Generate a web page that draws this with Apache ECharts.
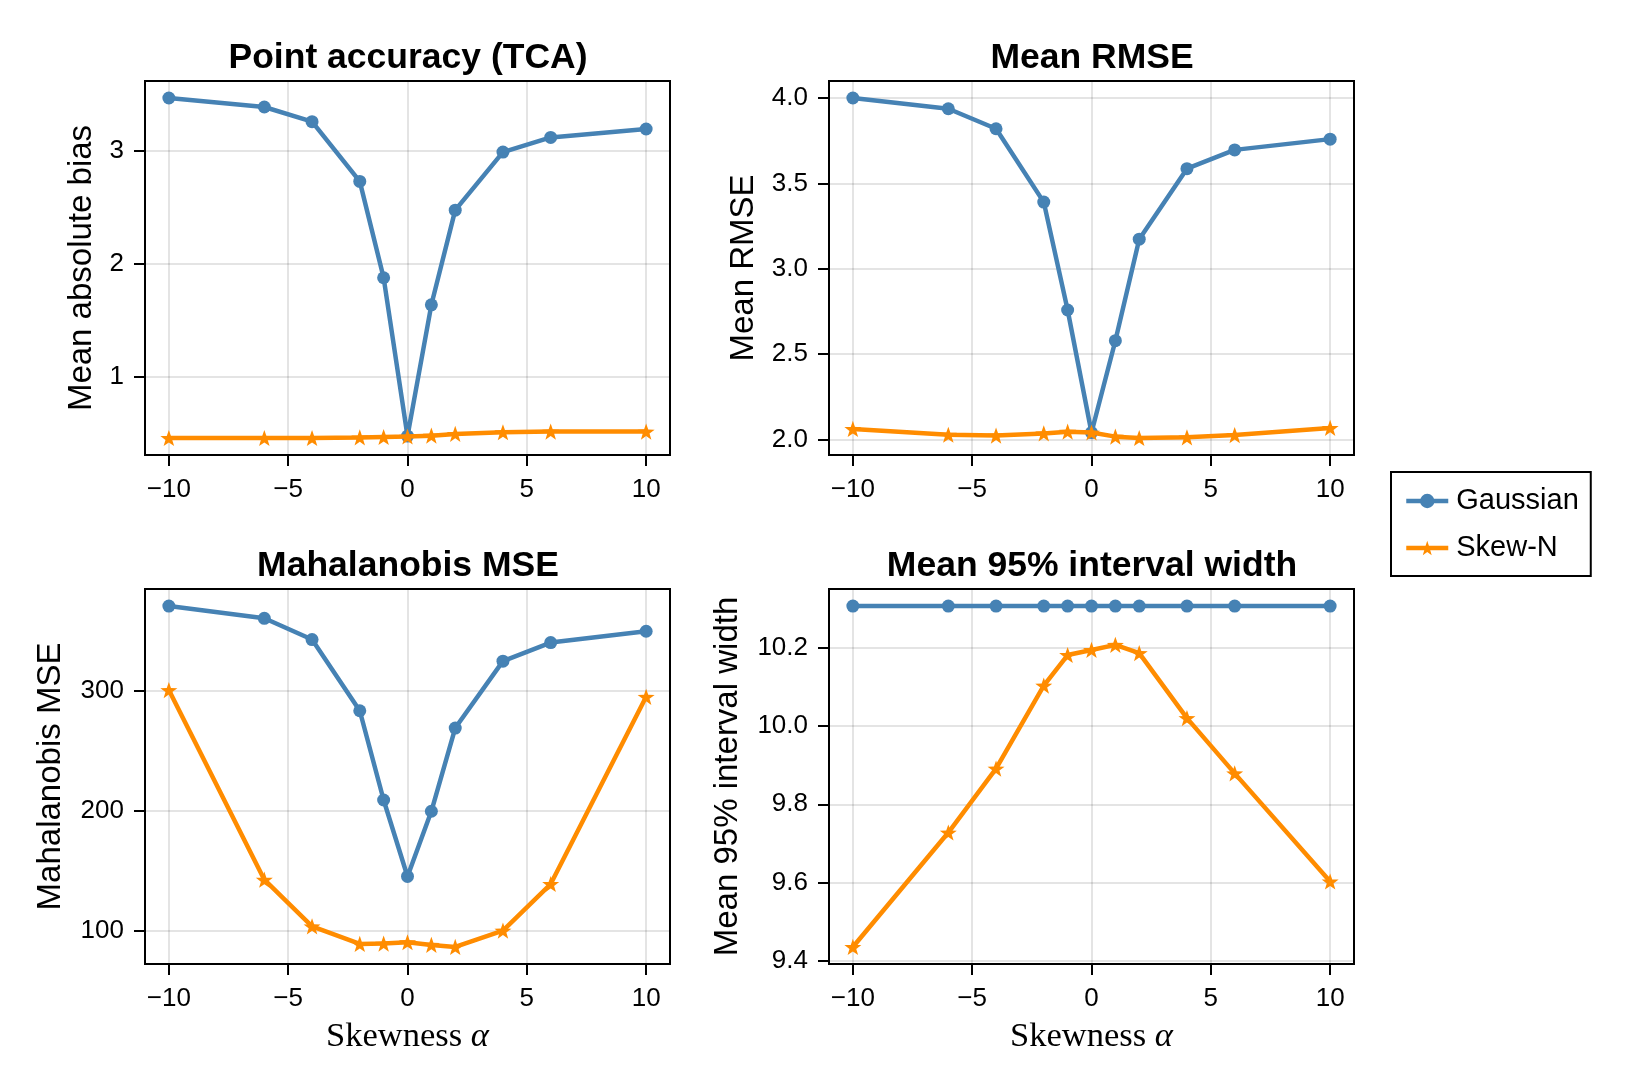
<!DOCTYPE html>
<html>
<head>
<meta charset="utf-8">
<script src="https://cdn.jsdelivr.net/npm/echarts@6/dist/echarts.min.js"></script>
<style>
html,body{margin:0;padding:0;background:#fff;}
#chart{width:1625px;height:1083px;}
</style>
</head>
<body>
<div id="chart"></div>
<script>
// ---- data ----
const alpha = [-10, -6, -4, -2, -1, 0, 1, 2, 4, 6, 10];

const tcaGaussian = [3.47, 3.39, 3.26, 2.73, 1.875, 0.47, 1.635, 2.475, 2.99, 3.12, 3.195];
const tcaSkewN    = [0.453, 0.453, 0.453, 0.458, 0.462, 0.466, 0.474, 0.489, 0.504, 0.51, 0.51];

const rmseGaussian = [4.0, 3.937, 3.82, 3.39, 2.758, 2.04, 2.578, 3.173, 3.586, 3.696, 3.759];
const rmseSkewN    = [2.061, 2.027, 2.022, 2.035, 2.045, 2.04, 2.016, 2.008, 2.012, 2.025, 2.067];

const mahalGaussian = [370.6, 360.4, 342.7, 283.4, 209.1, 145.4, 199.7, 269.0, 324.7, 340.2, 349.6];
const mahalSkewN    = [300.6, 142.7, 103.9, 89.2, 89.5, 90.6, 88.4, 86.7, 100.3, 139.1, 295.0];

const widthGaussian = [10.306, 10.306, 10.306, 10.306, 10.306, 10.306, 10.306, 10.306, 10.306, 10.306, 10.306];
const widthSkewN    = [9.436, 9.728, 9.891, 10.103, 10.181, 10.194, 10.207, 10.186, 10.02, 9.879, 9.603];

const xTicks = [-10, -5, 0, 5, 10];
const xTickLabels = ['\u221210', '\u22125', '0', '5', '10'];

const yTicksTca = [1, 2, 3];
const yTickLabelsTca = ['1', '2', '3'];
const yTicksRmse = [2.0, 2.5, 3.0, 3.5, 4.0];
const yTickLabelsRmse = ['2.0', '2.5', '3.0', '3.5', '4.0'];
const yTicksMahal = [100, 200, 300];
const yTickLabelsMahal = ['100', '200', '300'];
const yTicksWidth = [9.4, 9.6, 9.8, 10.0, 10.2];
const yTickLabelsWidth = ['9.4', '9.6', '9.8', '10.0', '10.2'];

const titles = ['Point accuracy (TCA)', 'Mean RMSE', 'Mahalanobis MSE', 'Mean 95% interval width'];
const yNames = ['Mean absolute bias', 'Mean RMSE', 'Mahalanobis MSE', 'Mean 95% interval width'];
const seriesNames = ['Gaussian', 'Skew-N'];

// ---- styling / layout ----
const BLUE = '#4682B4', ORANGE = '#FF8C00';
const SANS = '"Liberation Sans", Arial, Helvetica, sans-serif';
const SERIF = '"Liberation Serif", "DejaVu Serif", serif';
const STAR = 'path://M50,0 L61.76,33.82 L97.55,34.55 L69.02,56.18 L79.39,90.45 L50,70 L20.61,90.45 L30.98,56.18 L2.45,34.55 L38.24,33.82 Z';
const LW = 4.5;

const cols = [{left: 145, width: 525}, {left: 829, width: 525}];
const rows = [{top: 81, height: 374}, {top: 589, height: 375}];

const panels = [
  {g: tcaGaussian, s: tcaSkewN, ticks: yTicksTca, labels: yTickLabelsTca, col: 0, row: 0, nameGap: 47},
  {g: rmseGaussian, s: rmseSkewN, ticks: yTicksRmse, labels: yTickLabelsRmse, col: 1, row: 0, nameGap: 69},
  {g: mahalGaussian, s: mahalSkewN, ticks: yTicksMahal, labels: yTickLabelsMahal, col: 0, row: 1, nameGap: 78},
  {g: widthGaussian, s: widthSkewN, ticks: yTicksWidth, labels: yTickLabelsWidth, col: 1, row: 1, nameGap: 85}
];

function limits(a, b) {
  const all = a.concat(b);
  const lo = Math.min.apply(null, all), hi = Math.max.apply(null, all);
  const pad = 0.05 * (hi - lo);
  return [lo - pad, hi + pad];
}
function labelFor(ticks, labels) {
  return function (v) {
    for (let i = 0; i < ticks.length; i++) if (Math.abs(ticks[i] - v) < 1e-9) return labels[i];
    return '';
  };
}

const grid = [], xAxis = [], yAxis = [], series = [], title = [];
panels.forEach((p, i) => {
  const c = cols[p.col], r = rows[p.row];
  grid.push({left: c.left, top: r.top, width: c.width, height: r.height,
    show: true, borderColor: '#000', borderWidth: 2, backgroundColor: 'transparent'});
  title.push({text: titles[i], left: c.left + c.width / 2 - 4.5, top: r.top - 46, textAlign: 'center',
    textStyle: {fontFamily: SANS, fontWeight: 'bold', fontSize: 35.5, color: '#000'}});
  const xa = {
    type: 'value', gridIndex: i, min: -11, max: 11, position: 'bottom',
    axisLine: {show: false, onZero: false},
    axisTick: {show: true, inside: false, length: 11, lineStyle: {color: '#000', width: 2}, customValues: xTicks},
    axisLabel: {show: true, margin: 22, customValues: xTicks, formatter: labelFor(xTicks, xTickLabels),
      fontFamily: SANS, fontSize: 26, color: '#000'},
    splitLine: {show: true, lineStyle: {color: 'rgba(0,0,0,0.14)', width: 1.5}}
  };
  if (p.row === 1) {
    xa.name = '{a|Skewness }{b|\u03B1}';
    xa.nameLocation = 'middle';
    xa.nameGap = 55;
    xa.nameTextStyle = {rich: {
      a: {fontFamily: SERIF, fontSize: 34.5, color: '#000'},
      b: {fontFamily: SERIF, fontSize: 34.5, fontStyle: 'italic', color: '#000'}
    }};
  }
  xAxis.push(xa);
  const lim = limits(p.g, p.s);
  yAxis.push({
    type: 'value', gridIndex: i, min: lim[0], max: lim[1], position: 'left',
    name: yNames[i], nameLocation: 'middle', nameGap: p.nameGap,
    nameTextStyle: {fontFamily: SANS, fontSize: 33, color: '#000'},
    axisLine: {show: false, onZero: false},
    axisTick: {show: true, inside: false, length: 11, lineStyle: {color: '#000', width: 2}, customValues: p.ticks},
    axisLabel: {show: true, margin: 21, customValues: p.ticks, formatter: labelFor(p.ticks, p.labels),
      fontFamily: SANS, fontSize: 26, color: '#000'},
    splitLine: {show: true, lineStyle: {color: 'rgba(0,0,0,0.14)', width: 1.5}}
  });
  series.push({
    name: seriesNames[0], type: 'line', xAxisIndex: i, yAxisIndex: i,
    data: alpha.map((a, j) => [a, p.g[j]]),
    symbol: 'circle', symbolSize: 13, showAllSymbol: true,
    lineStyle: {color: BLUE, width: LW}, itemStyle: {color: BLUE}, z: 2
  });
  series.push({
    name: seriesNames[1], type: 'line', xAxisIndex: i, yAxisIndex: i,
    data: alpha.map((a, j) => [a, p.s[j]]),
    symbol: STAR, symbolSize: 17, symbolKeepAspect: true, showAllSymbol: true,
    lineStyle: {color: ORANGE, width: LW}, itemStyle: {color: ORANGE}, z: 3
  });
});

const chart = echarts.init(document.getElementById('chart'), null, {renderer: 'canvas'});
chart.setOption({
  backgroundColor: '#fff',
  animation: false,
  title: title,
  grid: grid,
  xAxis: xAxis,
  yAxis: yAxis,
  series: series,
  legend: {
    data: seriesNames, orient: 'vertical', left: 1391, top: 472,
    padding: [14, 12, 13, 13], itemGap: 17, itemWidth: 42, itemHeight: 18,
    borderColor: '#000', borderWidth: 2, backgroundColor: '#fff',
    lineStyle: {width: LW},
    textStyle: {fontFamily: SANS, fontSize: 29, color: '#000', lineHeight: 30, padding: [0, 0, 0, 3]}
  }
});
</script>
</body>
</html>
